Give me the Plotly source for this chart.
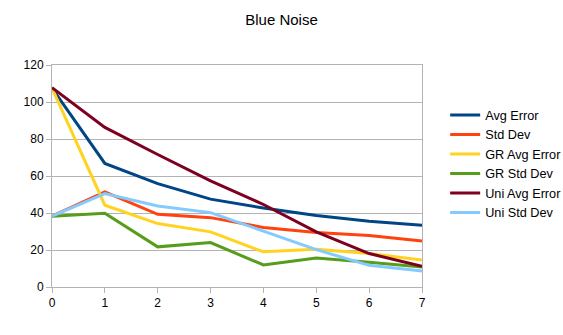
import plotly.graph_objects as go

x = [0, 1, 2, 3, 4, 5, 6, 7]
avg_error = [107.5, 66.8, 55.9, 47.5, 42.7, 38.6, 35.6, 33.4]
std_dev = [38.3, 51.4, 39.3, 37.5, 32.2, 29.4, 27.8, 24.9]
gr_avg_error = [107.5, 44.2, 34.3, 29.8, 19.0, 20.4, 18.1, 14.6]
gr_std_dev = [38.3, 39.9, 21.7, 24.0, 11.9, 15.7, 13.4, 10.8]
uni_avg_error = [107.7, 86.3, 71.6, 57.4, 44.6, 29.8, 18.1, 11.2]
uni_std_dev = [38.3, 50.5, 43.8, 40.2, 30.2, 20.2, 11.7, 8.7]

series = [
    ("Avg Error", avg_error, "#004586"),
    ("Std Dev", std_dev, "#ff420e"),
    ("GR Avg Error", gr_avg_error, "#ffd320"),
    ("GR Std Dev", gr_std_dev, "#579d1c"),
    ("Uni Avg Error", uni_avg_error, "#7e0021"),
    ("Uni Std Dev", uni_std_dev, "#83caff"),
]

fig = go.Figure()
for name, vals, color in series:
    fig.add_trace(go.Scatter(x=x, y=vals, name=name, mode="lines",
                             line=dict(color=color, width=3)))

font = "Liberation Sans, Arial, sans-serif"
fig.update_layout(
    width=563, height=335,
    margin=dict(l=52, r=141, t=65, b=48),
    paper_bgcolor="white", plot_bgcolor="white",
    font=dict(family=font, size=12, color="black"),
    title=dict(text="Blue Noise", x=0.5, xanchor="center", y=0.94, yanchor="middle",
               font=dict(family=font, size=15, color="black")),
    showlegend=True,
    legend=dict(xref="container", yref="container", x=0.7907, xanchor="left",
                y=0.51, yanchor="middle",
                font=dict(family=font, size=12.7, color="black"),
                bgcolor="rgba(0,0,0,0)"),
    xaxis=dict(range=[0, 7], dtick=1, tick0=0, showgrid=False, zeroline=False,
               showline=True, linecolor="#b3b3b3", linewidth=1, mirror=True,
               ticks="outside", ticklen=5, tickcolor="#b3b3b3"),
    yaxis=dict(range=[0, 120], dtick=20, tick0=0, showgrid=True, gridcolor="#b3b3b3",
               gridwidth=1, zeroline=False, showline=True, linecolor="#b3b3b3",
               linewidth=1, mirror=True, ticks="outside", ticklen=5, tickcolor="#b3b3b3"),
)

fig.write_html("out.html")
